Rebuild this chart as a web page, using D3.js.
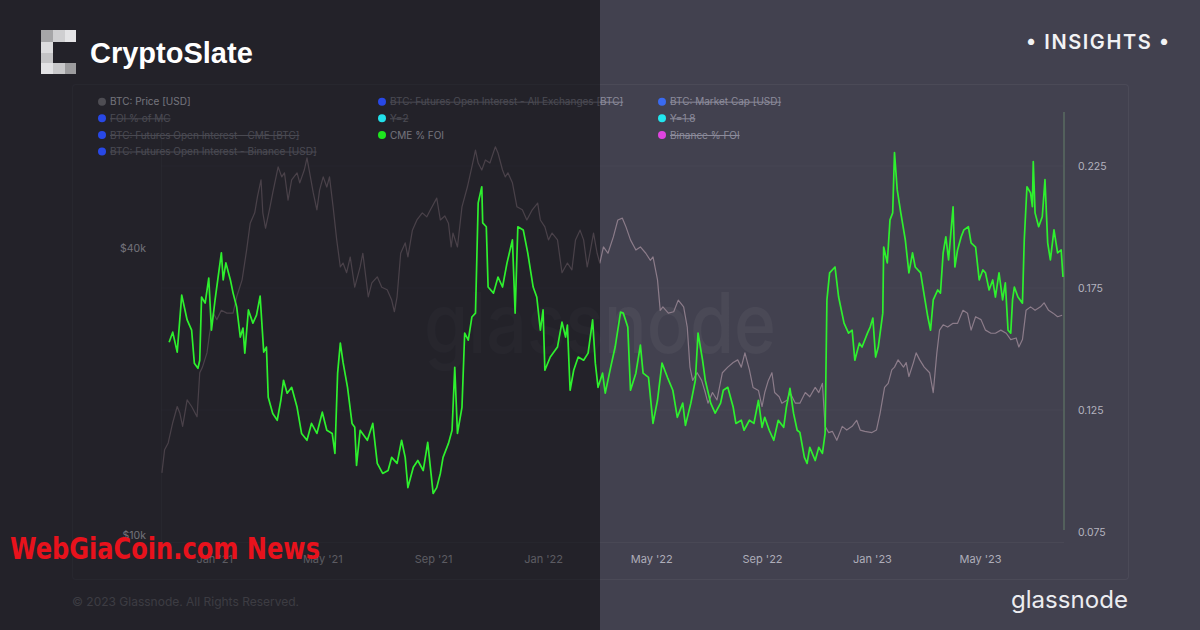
<!DOCTYPE html>
<html><head><meta charset="utf-8">
<script src="https://cdn.jsdelivr.net/npm/d3@7"></script>
<style>
body{margin:0;background:#42414f;}
svg{display:block;}
text{font-family:Inter,"Noto Sans",sans-serif;}
</style>
</head><body>
<svg id="c" width="1200" height="630"></svg>
<script>
// ---------------- DATA ----------------
const priceDates = ["2020-11-04","2020-11-07","2020-11-11","2020-11-16","2020-11-21","2020-11-24","2020-11-27","2020-12-02","2020-12-07","2020-12-13","2020-12-16","2020-12-19","2020-12-24","2020-12-27","2020-12-31",
"2021-01-04","2021-01-09","2021-01-15","2021-01-22","2021-01-26","2021-02-01","2021-02-06","2021-02-10","2021-02-15","2021-02-18","2021-02-22","2021-02-24","2021-02-27","2021-03-04","2021-03-07","2021-03-13","2021-03-17","2021-03-20","2021-03-24","2021-03-28","2021-04-03","2021-04-06","2021-04-11","2021-04-14","2021-04-17","2021-04-21","2021-04-25","2021-04-28","2021-05-02","2021-05-06","2021-05-09","2021-05-13","2021-05-17","2021-05-21","2021-05-24","2021-05-28","2021-06-01","2021-06-06","2021-06-12","2021-06-15","2021-06-21","2021-06-25","2021-07-01","2021-07-06","2021-07-12","2021-07-17","2021-07-20","2021-07-23","2021-07-27","2021-08-01","2021-08-04","2021-08-09","2021-08-14","2021-08-20","2021-08-25","2021-08-29","2021-09-05","2021-09-09","2021-09-14","2021-09-18","2021-09-21","2021-09-23","2021-09-28","2021-10-03","2021-10-09","2021-10-14","2021-10-18","2021-10-21","2021-10-25","2021-10-29","2021-11-03","2021-11-09","2021-11-12","2021-11-17","2021-11-20","2021-11-23","2021-11-28","2021-12-03","2021-12-09","2021-12-14","2021-12-20","2021-12-26","2021-12-29",
"2022-01-03","2022-01-07","2022-01-11","2022-01-17","2022-01-22","2022-01-28","2022-02-02","2022-02-06","2022-02-11","2022-02-15","2022-02-19","2022-02-22","2022-02-26","2022-03-02","2022-03-05","2022-03-09","2022-03-14","2022-03-20","2022-03-25","2022-03-30","2022-04-03","2022-04-08","2022-04-14","2022-04-19","2022-04-25","2022-04-30","2022-05-03","2022-05-08","2022-05-11","2022-05-14","2022-05-20","2022-05-26","2022-05-31","2022-06-06","2022-06-10","2022-06-13","2022-06-16","2022-06-21","2022-06-26","2022-06-30","2022-07-03","2022-07-08","2022-07-13","2022-07-19","2022-07-25","2022-07-31","2022-08-05","2022-08-09","2022-08-13","2022-08-18","2022-08-22","2022-08-28","2022-09-01","2022-09-04","2022-09-08","2022-09-12","2022-09-15","2022-09-20","2022-09-23","2022-09-29","2022-10-02","2022-10-08","2022-10-13","2022-10-19","2022-10-24","2022-10-30","2022-11-03","2022-11-07","2022-11-10","2022-11-14","2022-11-18","2022-11-23","2022-11-29","2022-12-04","2022-12-10","2022-12-15","2022-12-19","2022-12-24",
"2023-01-01","2023-01-06","2023-01-10","2023-01-15","2023-01-19","2023-01-23","2023-01-26","2023-01-30","2023-02-05","2023-02-08","2023-02-11","2023-02-16","2023-02-19","2023-02-23","2023-02-28","2023-03-06","2023-03-10","2023-03-14","2023-03-17","2023-03-21","2023-03-26","2023-04-01","2023-04-06","2023-04-12","2023-04-17","2023-04-21","2023-04-26","2023-05-02","2023-05-07","2023-05-13","2023-05-18","2023-05-24","2023-05-30","2023-06-04","2023-06-10","2023-06-13","2023-06-17","2023-06-21","2023-06-26","2023-07-01","2023-07-07","2023-07-11","2023-07-16","2023-07-21","2023-07-26","2023-07-31"];
const priceValues = [13500,15100,15600,17200,18600,18000,16900,19200,18600,17700,21900,22500,24100,26500,29200,
28300,29600,29200,29200,31600,34300,39600,45100,47400,51200,55600,47400,44000,48800,52200,59200,56400,57500,50400,55600,57500,54800,58300,61800,57500,52200,48100,52900,56400,53700,56400,48800,41600,36500,37200,35500,38300,33100,36500,39000,31600,33800,34800,33100,32700,31100,29400,31600,39000,41000,38300,43600,45800,47400,46500,48100,50900,45800,46700,45100,40200,43000,40200,48800,53700,59200,64200,60300,58300,61200,60300,65200,63300,58300,56400,57500,54800,48800,48100,45800,48100,49700,45800,
44300,41600,43000,41600,35500,37200,36000,41600,43600,41600,36500,39000,43000,39000,37200,40200,39000,42200,45800,46200,44300,41600,39600,40200,39000,37700,38300,34300,29600,30100,29200,29400,31100,30100,27300,22500,21100,21900,21100,19900,18900,19900,19200,21900,22500,23000,23300,22500,24100,22200,20400,20100,18600,19900,21100,21900,19900,19500,18900,19200,19900,18900,18900,19900,19500,20400,19900,20800,16900,16400,16500,15800,16900,16600,16900,17400,16600,16500,
16400,16600,18000,20400,20800,22200,22500,23300,22500,23000,21500,23000,24100,23300,22500,21900,19900,24100,26900,27600,27300,27800,27800,29600,29200,26900,28700,28300,26900,26500,26500,26900,26500,25700,25900,24800,25700,29600,30100,29600,30100,30700,29600,29200,28700,28900];

const cmeDates = ["2020-11-12","2020-11-16","2020-11-21","2020-11-26","2020-12-02","2020-12-07","2020-12-10","2020-12-14","2020-12-16","2020-12-18","2020-12-22","2020-12-26","2020-12-29",
"2021-01-02","2021-01-09","2021-01-11","2021-01-14","2021-01-19","2021-01-22","2021-01-26","2021-01-30","2021-02-02","2021-02-04","2021-02-08","2021-02-13","2021-02-17","2021-02-21","2021-02-25","2021-02-28","2021-03-02","2021-03-07","2021-03-12","2021-03-16","2021-03-19","2021-03-23","2021-03-28","2021-04-03","2021-04-08","2021-04-14","2021-04-19","2021-04-25","2021-05-01","2021-05-06","2021-05-12","2021-05-15","2021-05-18","2021-05-21","2021-05-24","2021-05-29","2021-06-03","2021-06-06","2021-06-08","2021-06-12","2021-06-20","2021-06-26","2021-07-01","2021-07-07","2021-07-13","2021-07-17","2021-07-23","2021-07-28","2021-08-01","2021-08-04","2021-08-10","2021-08-15","2021-08-21","2021-08-26","2021-09-01","2021-09-05","2021-09-09","2021-09-12","2021-09-18","2021-09-22","2021-09-25","2021-09-28","2021-10-03","2021-10-06","2021-10-10","2021-10-14","2021-10-18","2021-10-21","2021-10-25","2021-10-26","2021-10-30","2021-11-01","2021-11-07","2021-11-12","2021-11-17","2021-11-22","2021-11-28","2021-12-01","2021-12-04","2021-12-10","2021-12-15","2021-12-21","2021-12-25","2021-12-29",
"2022-01-01","2022-01-03","2022-01-09","2022-01-17","2022-01-22","2022-01-26","2022-01-28","2022-01-31","2022-02-04","2022-02-09","2022-02-15","2022-02-20","2022-02-25","2022-02-28","2022-03-03","2022-03-08","2022-03-11","2022-03-17","2022-03-22","2022-03-28","2022-03-31","2022-04-05","2022-04-08","2022-04-14","2022-04-19","2022-04-22","2022-04-28","2022-05-03","2022-05-08","2022-05-13","2022-05-19","2022-05-25","2022-05-30","2022-06-05","2022-06-08","2022-06-14","2022-06-19","2022-06-22","2022-06-27","2022-06-30","2022-07-06","2022-07-11","2022-07-17","2022-07-20","2022-07-25","2022-07-31","2022-08-03","2022-08-09","2022-08-12","2022-08-18","2022-08-23","2022-08-28","2022-09-01","2022-09-04","2022-09-09","2022-09-14","2022-09-19","2022-09-25","2022-09-28","2022-10-02","2022-10-06","2022-10-10","2022-10-13","2022-10-18","2022-10-21","2022-10-24","2022-10-30","2022-11-03","2022-11-07","2022-11-10","2022-11-12","2022-11-15","2022-11-21","2022-11-25","2022-12-01","2022-12-06","2022-12-10","2022-12-13","2022-12-18","2022-12-21","2022-12-27","2022-12-30",
"2023-01-02","2023-01-05","2023-01-08","2023-01-13","2023-01-14","2023-01-18","2023-01-21","2023-01-24","2023-01-26","2023-01-29","2023-02-02","2023-02-07","2023-02-11","2023-02-15","2023-02-18","2023-02-24","2023-02-27","2023-03-04","2023-03-07","2023-03-10","2023-03-15","2023-03-18","2023-03-21","2023-03-24","2023-03-27","2023-04-01","2023-04-03","2023-04-06","2023-04-10","2023-04-13","2023-04-18","2023-04-21","2023-04-26","2023-04-30","2023-05-04","2023-05-07","2023-05-11","2023-05-15","2023-05-18","2023-05-22","2023-05-26","2023-05-29","2023-06-01","2023-06-04","2023-06-06","2023-06-08","2023-06-12","2023-06-17","2023-06-19","2023-06-22","2023-06-26","2023-06-28","2023-06-29","2023-07-01","2023-07-05","2023-07-09","2023-07-12","2023-07-15","2023-07-18","2023-07-22","2023-07-26","2023-07-30","2023-08-01"];
const cmeValues = [0.1528,0.1569,0.1487,0.1721,0.1619,0.1577,0.1442,0.1421,0.1454,0.1713,0.1688,0.1791,0.1577,
0.1701,0.1894,0.1783,0.1853,0.1783,0.1729,0.1672,0.1549,0.1586,0.1483,0.1660,0.1606,0.1639,0.1717,0.1487,0.1508,0.1302,0.1236,0.1208,0.1290,0.1372,0.1319,0.1343,0.1261,0.1154,0.1126,0.1195,0.1154,0.1241,0.1167,0.1154,0.1072,0.1401,0.1524,0.1446,0.1343,0.1195,0.1179,0.1023,0.1167,0.1126,0.1195,0.1031,0.0990,0.1002,0.1056,0.1031,0.1126,0.1056,0.0932,0.1015,0.1043,0.1002,0.1117,0.0908,0.0932,0.0990,0.1056,0.1113,0.1167,0.1425,0.1154,0.1261,0.1565,0.1536,0.1631,0.1647,0.2099,0.2165,0.2017,0.2001,0.1754,0.1729,0.1795,0.1754,0.1853,0.1947,0.1647,0.2001,0.1988,0.1894,0.1754,0.1713,0.1577,
0.1660,0.1413,0.1467,0.1508,0.1610,0.1549,0.1598,0.1331,0.1413,0.1467,0.1454,0.1483,0.1619,0.1442,0.1343,0.1401,0.1319,0.1425,0.1508,0.1651,0.1647,0.1590,0.1331,0.1401,0.1516,0.1401,0.1384,0.1195,0.1290,0.1442,0.1384,0.1331,0.1220,0.1278,0.1187,0.1278,0.1372,0.1565,0.1454,0.1372,0.1278,0.1237,0.1278,0.1331,0.1343,0.1261,0.1195,0.1208,0.1167,0.1208,0.1195,0.1290,0.1179,0.1220,0.1167,0.1126,0.1208,0.1179,0.1261,0.1339,0.1236,0.1167,0.1158,0.1056,0.1031,0.1097,0.1043,0.1097,0.1072,0.1154,0.1701,0.1812,0.1836,0.1713,0.1606,0.1565,0.1577,0.1454,0.1524,0.1508,0.1565,0.1590,
0.1627,0.1467,0.1508,0.1647,0.1918,0.1853,0.2029,0.2058,0.2305,0.2153,0.2058,0.1947,0.1812,0.1894,0.1836,0.1812,0.1742,0.1631,0.1577,0.1701,0.1742,0.1729,0.1894,0.1960,0.1865,0.2083,0.1836,0.1906,0.1960,0.1988,0.2001,0.1935,0.1918,0.1783,0.1824,0.1812,0.1742,0.1783,0.1713,0.1812,0.1701,0.1771,0.1577,0.1565,0.1701,0.1754,0.1713,0.1688,0.1947,0.2165,0.2140,0.2083,0.2268,0.2058,0.2001,0.2042,0.2194,0.1935,0.1865,0.1988,0.1894,0.1906,0.1795];

const xTickDates = ["2021-01-01","2021-05-01","2021-09-01","2022-01-01","2022-05-01","2022-09-01","2023-01-01","2023-05-01"];
const priceTicks = [10000, 40000];
const ratioTicks = [0.075, 0.125, 0.175, 0.225];

const legendLabels = ["BTC: Price [USD]","BTC: Futures Open Interest - All Exchanges [BTC]","BTC: Market Cap [USD]",
  "FOI % of MC","Y=2","Y=1.8",
  "BTC: Futures Open Interest - CME [BTC]","CME % FOI","Binance % FOI",
  "BTC: Futures Open Interest - Binance [USD]"];
const legendColors = ["#4e4d53","#2848e6","#3a6af0","#2848e6","#22e0ea","#22e6ee","#2848e6","#1ee61e","#e044e0","#2848e6"];
const legendActive = [true,false,false,false,false,false,false,true,false,false];

// ---------------- DRAW ----------------
const W = 1200, H = 630;
const svg = d3.select("#c");
const parse = d3.utcParse("%Y-%m-%d");
const price = priceDates.map((d,i)=>({date:parse(d), v:priceValues[i]}));
const cme = cmeDates.map((d,i)=>({date:parse(d), v:cmeValues[i]}));

const x = d3.scaleUtc().domain([parse("2020-11-03"), parse("2023-08-01")]).range([161, 1063]);
const yP = d3.scaleLog().domain([10000, 40000]).range([535, 248]);
const yR = d3.scaleLinear().domain([0.075, 0.225]).range([532, 166]);

const legX = i => [102, 382, 662][i % 3];
const legY = i => [101.7, 118.3, 135, 151.5][Math.floor(i / 3)];

// background
svg.append("rect").attr("width", W).attr("height", H).attr("fill", "#42414f");
// chart panel
svg.append("rect").attr("x", 72.5).attr("y", 84.5).attr("width", 1056).attr("height", 495)
  .attr("fill", "none").attr("stroke", "rgba(255,255,255,0.05)").attr("rx", 3);

// watermark
svg.append("text").attr("x", 600).attr("y", 353).attr("text-anchor", "middle")
  .attr("font-size", 84).attr("font-weight", 500).attr("textLength", 352).attr("lengthAdjust", "spacingAndGlyphs")
  .attr("fill", "rgba(255,255,255,0.045)").text("glassnode");

// grid
svg.append("g").selectAll("line").data(ratioTicks.slice(1)).join("line")
  .attr("x1", 161).attr("x2", 1063).attr("y1", d=>yR(d)).attr("y2", d=>yR(d))
  .attr("stroke", "rgba(255,255,255,0.025)");
svg.append("line").attr("x1", 161.5).attr("x2", 161.5).attr("y1", 112).attr("y2", 542)
  .attr("stroke", "rgba(255,255,255,0.05)");
svg.append("line").attr("x1", 161).attr("x2", 1064).attr("y1", 542.5).attr("y2", 542.5)
  .attr("stroke", "rgba(255,255,255,0.04)");

// price line
svg.append("path").datum(price)
  .attr("d", d3.line().x(d=>x(d.date)).y(d=>yP(d.v)))
  .attr("fill", "none").attr("stroke", "#8c7c8a").attr("stroke-width", 1.2).attr("stroke-linejoin", "round");

// x axis
const xa = svg.append("g").attr("transform", "translate(0,551)")
  .call(d3.axisBottom(x).tickValues(xTickDates.map(parse)).tickFormat(d3.utcFormat("%b '%y")).tickSize(0).tickPadding(4));
xa.select(".domain").remove();
xa.selectAll("text").attr("fill", "#aeadb9").attr("font-size", 11).style("font-family", "Inter, sans-serif");

// left axis
const la = svg.append("g").attr("transform", "translate(146,0)")
  .call(d3.axisLeft(yP).tickValues(priceTicks).tickFormat(d=>"$"+(d/1000)+"k").tickSize(0).tickPadding(0));
la.select(".domain").remove();
la.selectAll("text").attr("fill", "#d8d7e2").attr("font-size", 10.5).style("font-family", "Inter, sans-serif");

// legend texts
const leg = svg.append("g");
legendLabels.forEach((lab, i) => {
  const cx = legX(i), cy = legY(i);
  const col = legendActive[i] ? "#dcdbe6" : "#8d8c9c";
  const t = leg.append("text").attr("x", cx + 8).attr("y", cy).attr("dy", "0.35em")
    .attr("font-size", 10).attr("fill", col).text(lab);
  if (!legendActive[i]) {
    const len = t.node().getComputedTextLength();
    leg.append("line").attr("x1", cx + 8).attr("x2", cx + 8 + len).attr("y1", cy + 0.5).attr("y2", cy + 0.5)
      .attr("stroke", col).attr("stroke-width", 1);
  }
});

// copyright
svg.append("text").attr("x", 72).attr("y", 606).attr("font-size", 12).attr("fill", "#73727e")
  .text("© 2023 Glassnode. All Rights Reserved.");

// dark overlay on left half
svg.append("rect").attr("x", 0).attr("y", 0).attr("width", 600).attr("height", H)
  .attr("fill", "#000").attr("opacity", 0.47);

// right axis
svg.append("line").attr("x1", 1064).attr("x2", 1064).attr("y1", 112).attr("y2", 530)
  .attr("stroke", "#53605c").attr("stroke-width", 2);
const ra = svg.append("g").attr("transform", "translate(1064,0)")
  .call(d3.axisRight(yR).tickValues(ratioTicks).tickFormat(d3.format(".3f")).tickSize(0).tickPadding(14));
ra.select(".domain").remove();
ra.selectAll("text").attr("fill", "#b4b3bf").attr("font-size", 10.5).style("font-family", "Inter, sans-serif");

// CME % FOI line
svg.append("path").datum(cme)
  .attr("d", d3.line().x(d=>x(d.date)).y(d=>yR(d.v)))
  .attr("fill", "none").attr("stroke", "#2ef02e").attr("stroke-width", 1.7).attr("stroke-linejoin", "round");

// legend dots (above overlay)
svg.append("g").selectAll("circle").data(legendLabels).join("circle")
  .attr("cx", (d, i) => legX(i)).attr("cy", (d, i) => legY(i)).attr("r", 4)
  .attr("fill", (d, i) => legendColors[i]);

// CryptoSlate logo
const blocks = [[41,30,12,12,"#a6a6a8"],[53,30,12,12,"#cfcfd1"],[65,30,11,12,"#e4e4e6"],
  [41,42,12,11,"#dcdcde"],[41,53,12,10,"#c4c4c6"],
  [41,63,12,11,"#e2e2e4"],[53,63,12,11,"#c8c8ca"],[65,63,11,11,"#9c9c9e"]];
svg.append("g").selectAll("rect").data(blocks).join("rect")
  .attr("x", d=>d[0]).attr("y", d=>d[1]).attr("width", d=>d[2]).attr("height", d=>d[3]).attr("fill", d=>d[4]);
svg.append("text").attr("x", 90).attr("y", 63).attr("font-size", 29).attr("font-weight", 700)
  .style("font-family", "'Liberation Sans', Arial, sans-serif").attr("fill", "#ffffff").text("CryptoSlate");

// INSIGHTS
svg.append("text").attr("x", 1026).attr("y", 49).attr("font-size", 20).attr("font-weight", 600)
  .attr("textLength", 143).attr("lengthAdjust", "spacing").attr("fill", "#f2f2f4").text("• INSIGHTS •");

// glassnode footer logo
svg.append("text").attr("x", 1011).attr("y", 608).attr("font-size", 24).attr("font-weight", 400)
  .attr("textLength", 117).attr("lengthAdjust", "spacingAndGlyphs").attr("fill", "#ececf0").text("glassnode");

// WebGiaCoin watermark
svg.append("text").attr("x", 10).attr("y", 559).attr("font-size", 31).attr("font-weight", 700)
  .style("font-family", "'Liberation Sans Narrow', 'DejaVu Sans Condensed', sans-serif")
  .attr("textLength", 310).attr("lengthAdjust", "spacingAndGlyphs").attr("fill", "#e8121c").text("WebGiaCoin.com News");
</script>
</body></html>
